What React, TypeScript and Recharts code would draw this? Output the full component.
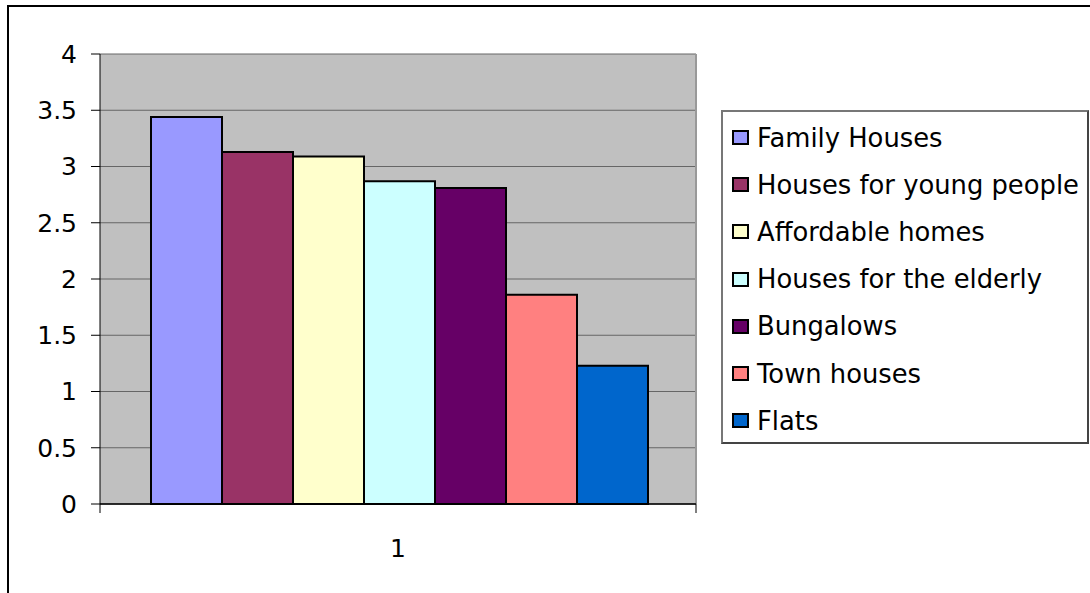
import React from 'react';
import { BarChart, Bar, XAxis, YAxis, CartesianGrid } from 'recharts';

const categories = ['1'];

const seriesNames = [
    'Family Houses',
    'Houses for young people',
    'Affordable homes',
    'Houses for the elderly',
    'Bungalows',
    'Town houses',
    'Flats',
];

const seriesValues = [3.44, 3.13, 3.09, 2.87, 2.81, 1.86, 1.23];

const seriesColors = ['#9999FF', '#993366', '#FFFFCC', '#CCFFFF', '#660066', '#FF8080', '#0066CC'];

const yTicks = [0, 0.5, 1, 1.5, 2, 2.5, 3, 3.5, 4];

const FONT = '"DejaVu Sans", sans-serif';

const data = categories.map((name) => {
    const row: Record<string, string | number> = { name };
    seriesNames.forEach((_, i) => {
        row[`s${i}`] = seriesValues[i];
    });
    return row;
});

// category label plus the small tick marks at both edges of the category band
function CategoryTick(props: any) {
    const { x, y, payload } = props;
    const left = payload.coordinate - payload.offset;
    const right = payload.coordinate + payload.offset;
    return (
        <g>
            <line x1={left} x2={left} y1={y} y2={y + 9} stroke="#000" />
            <line x1={right} x2={right} y1={y} y2={y + 9} stroke="#000" />
            <text x={x} y={y + 35} dy="0.71em" textAnchor="middle" fill="#000" fontSize={25} fontFamily={FONT}>
                {payload.value}
            </text>
        </g>
    );
}

function HousingLegend() {
    return (
        <div
            style={{
                position: 'absolute',
                left: 721,
                top: 110,
                width: 368,
                height: 334,
                boxSizing: 'border-box',
                border: '2px solid #444',
                borderTopColor: '#777',
                borderLeftColor: '#777',
                background: '#fff',
                paddingTop: 2,
                fontFamily: FONT,
                fontSize: 25.8,
                color: '#000',
            }}
        >
            {seriesNames.map((n, i) => (
                <div key={n} style={{ height: 47.2, display: 'flex', alignItems: 'center', whiteSpace: 'nowrap' }}>
                    <span
                        style={{
                            display: 'inline-block',
                            width: 17,
                            height: 15,
                            boxSizing: 'border-box',
                            border: '2px solid #000',
                            background: seriesColors[i],
                            marginLeft: 9,
                            marginRight: 8,
                        }}
                    />
                    <span>{n}</span>
                </div>
            ))}
        </div>
    );
}

export default function App() {
    return (
        <div style={{ position: 'absolute', left: 0, top: 0, width: 1090, height: 593, overflow: 'hidden', background: '#fff' }}>
            {/* outer chart frame, runs off the right and bottom edges */}
            <div
                style={{
                    position: 'absolute',
                    left: 7,
                    top: 5,
                    width: 1200,
                    height: 700,
                    border: '2.5px solid #000',
                }}
            />
            <div style={{ position: 'absolute', left: 0, top: 0 }}>
                <BarChart
                    width={1090}
                    height={593}
                    data={data}
                    margin={{ top: 54, right: 394, bottom: 0, left: 0 }}
                    barGap={0}
                    barCategoryGap={51}
                >
                    <CartesianGrid vertical={false} stroke="#666" fill="#C0C0C0" />
                    {/* light border on the right side of the plot */}
                    <CartesianGrid
                        horizontal={false}
                        stroke="#999"
                        strokeWidth={2}
                        verticalCoordinatesGenerator={({ offset }: any) => [offset.left + offset.width]}
                    />
                    <XAxis
                        dataKey="name"
                        height={89}
                        axisLine={{ stroke: '#000', strokeWidth: 1.5 }}
                        tickLine={false}
                        tickSize={0}
                        tickMargin={0}
                        tick={<CategoryTick />}
                    />
                    <YAxis
                        width={100}
                        domain={[0, 4]}
                        ticks={yTicks}
                        tickSize={9}
                        tickMargin={14}
                        axisLine={{ stroke: '#000' }}
                        tickLine={{ stroke: '#000' }}
                        tick={{ fill: '#000', fontSize: 25, fontFamily: FONT }}
                    />
                    {seriesNames.map((n, i) => (
                        <Bar
                            key={n}
                            dataKey={`s${i}`}
                            name={n}
                            fill={seriesColors[i]}
                            stroke="#000"
                            strokeWidth={2}
                            isAnimationActive={false}
                        />
                    ))}
                </BarChart>
            </div>
            <HousingLegend />
        </div>
    );
}
